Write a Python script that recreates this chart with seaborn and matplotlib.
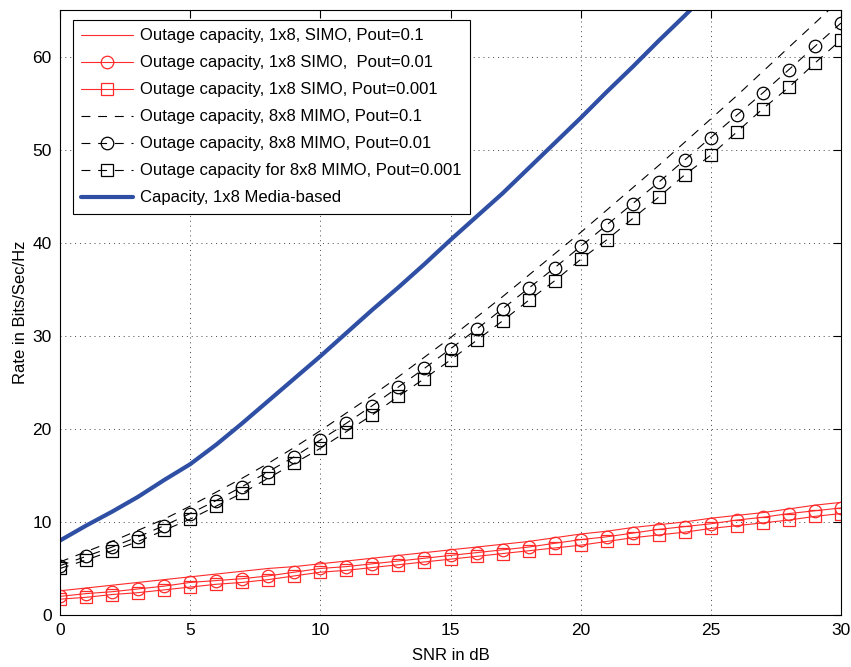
import numpy as np
import matplotlib
matplotlib.use("Agg")
import matplotlib.pyplot as plt
import seaborn as sns

# SNR grid (dB)
snr = list(range(0, 31))
snr_blue = list(range(0, 26))

# 1x8 SIMO outage capacity (red)
simo_p1 = [2.6, 2.9, 3.2, 3.5, 3.8, 4.1, 4.4, 4.7, 5.0, 5.2, 5.5, 5.8, 6.1, 6.4, 6.7, 7.0,
           7.3, 7.6, 7.9, 8.3, 8.7, 9.0, 9.4, 9.7, 10.0, 10.4, 10.7, 11.0, 11.4, 11.8, 12.1]
simo_p01 = [2.0, 2.3, 2.5, 2.8, 3.1, 3.5, 3.7, 3.9, 4.2, 4.6, 5.0, 5.2, 5.5, 5.8, 6.1, 6.4,
            6.7, 7.0, 7.3, 7.7, 8.1, 8.4, 8.8, 9.2, 9.5, 9.8, 10.2, 10.5, 10.9, 11.2, 11.5]
simo_p001 = [1.7, 1.9, 2.2, 2.4, 2.7, 3.0, 3.3, 3.5, 3.8, 4.2, 4.6, 4.8, 5.1, 5.4, 5.7, 6.0,
             6.3, 6.6, 6.9, 7.2, 7.5, 7.9, 8.3, 8.6, 8.9, 9.3, 9.6, 9.9, 10.2, 10.6, 10.9]

# 8x8 MIMO outage capacity (black)
mimo_p1 = [5.7, 6.8, 7.9, 9.1, 10.3, 11.7, 13.2, 14.7, 16.3, 18.0, 19.8, 21.7, 23.6, 25.6, 27.7, 29.8,
           32.0, 34.2, 36.5, 38.8, 41.1, 43.5, 45.9, 48.3, 50.8, 53.3, 55.8, 58.4, 61.0, 63.6, 66.2]
mimo_p01 = [5.3, 6.3, 7.3, 8.4, 9.6, 10.9, 12.3, 13.8, 15.4, 17.0, 18.8, 20.6, 22.5, 24.5, 26.5, 28.6,
            30.7, 32.9, 35.1, 37.3, 39.6, 41.9, 44.2, 46.5, 48.9, 51.3, 53.7, 56.1, 58.6, 61.1, 63.6]
mimo_p001 = [5.0, 5.9, 6.9, 7.9, 9.1, 10.3, 11.7, 13.1, 14.7, 16.3, 17.9, 19.7, 21.5, 23.5, 25.4, 27.4,
             29.5, 31.6, 33.8, 35.9, 38.2, 40.3, 42.6, 44.9, 47.3, 49.4, 51.9, 54.4, 56.7, 59.3, 61.8]

# 1x8 media-based capacity (blue)
media_cap = [8.0, 9.6, 11.1, 12.7, 14.5, 16.2, 18.3, 20.6, 23.0, 25.4, 27.8, 30.3, 32.8, 35.2, 37.7,
             40.3, 42.8, 45.3, 48.0, 50.7, 53.4, 56.2, 58.9, 61.7, 64.4, 67.2]

labels = [
    "Outage capacity, 1x8, SIMO, Pout=0.1",
    "Outage capacity, 1x8 SIMO,  Pout=0.01",
    "Outage capacity, 1x8 SIMO, Pout=0.001",
    "Outage capacity, 8x8 MIMO, Pout=0.1",
    "Outage capacity, 8x8 MIMO, Pout=0.01",
    "Outage capacity for 8x8 MIMO, Pout=0.001",
    "Capacity, 1x8 Media-based",
]

sns.set_theme(style="white")
plt.rcParams["font.family"] = ["Liberation Sans", "DejaVu Sans"]
plt.rcParams["text.color"] = "black"
plt.rcParams["axes.labelcolor"] = "black"

fig = plt.figure(figsize=(8.51, 6.67), dpi=100)
ax = fig.add_axes([60 / 851, 52 / 667, 781 / 851, 605 / 667])

red = "#ff2a2a"
mk = dict(markersize=9, markerfacecolor="none", markeredgewidth=0.9)
dash = (0, (8, 7))

sns.lineplot(x=snr, y=simo_p1, ax=ax, color=red, linewidth=0.8, label=labels[0])
sns.lineplot(x=snr, y=simo_p01, ax=ax, color=red, linewidth=0.8, marker="o",
             markeredgecolor=red, label=labels[1], **mk)
sns.lineplot(x=snr, y=simo_p001, ax=ax, color=red, linewidth=0.8, marker="s",
             markeredgecolor=red, label=labels[2], **mk)
sns.lineplot(x=snr, y=mimo_p1, ax=ax, color="black", linewidth=0.8,
             linestyle=dash, label=labels[3])
sns.lineplot(x=snr, y=mimo_p01, ax=ax, color="black", linewidth=0.8, marker="o",
             linestyle=dash, markeredgecolor="black", label=labels[4], **mk)
sns.lineplot(x=snr, y=mimo_p001, ax=ax, color="black", linewidth=0.8, marker="s",
             linestyle=dash, markeredgecolor="black", label=labels[5], **mk)
sns.lineplot(x=snr_blue, y=media_cap, ax=ax, color="#2e4fa3", linewidth=3, label=labels[6])

ax.set_xlim(0, 30)
ax.set_ylim(0, 65)
ax.set_xticks(range(0, 31, 5))
ax.set_yticks(range(0, 61, 10))
ax.grid(True, color="#444444", linestyle=(0, (1, 4)), linewidth=0.7)
ax.tick_params(direction="in", length=6, width=0.8, top=True, right=True,
               labelsize=12.5, colors="black", pad=6)
for s in ax.spines.values():
    s.set_color("black")
    s.set_linewidth(0.8)

ax.set_xlabel("SNR in dB", fontsize=12, labelpad=7, color="black")
ax.set_ylabel("Rate in Bits/Sec/Hz", fontsize=12, labelpad=3, color="black")

leg = ax.legend(loc="upper left", bbox_to_anchor=(13 / 781, 595 / 605), borderaxespad=0,
                fontsize=12, frameon=True, fancybox=False, framealpha=1, edgecolor="black",
                handlelength=3.1, handletextpad=0.45, labelspacing=0.72, borderpad=0.5)
leg.get_frame().set_linewidth(0.8)
for t in leg.get_texts():
    t.set_color("black")

fig.savefig("out.png", dpi=100)
